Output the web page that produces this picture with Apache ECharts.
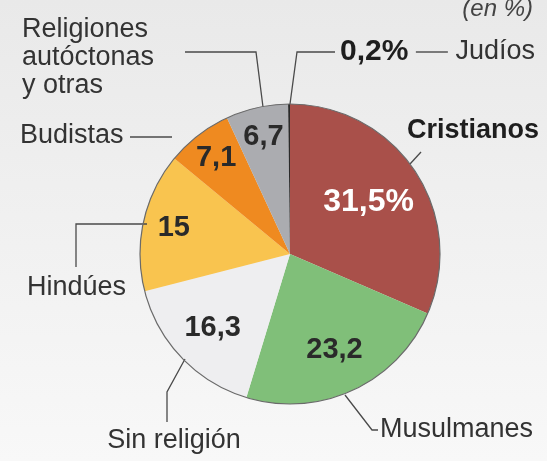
<!DOCTYPE html>
<html>
<head>
<meta charset="utf-8">
<script src="https://cdn.jsdelivr.net/npm/echarts@6/dist/echarts.min.js"></script>
<style>
html, body { margin: 0; padding: 0; }
#chart { width: 547px; height: 461px; background: linear-gradient(#e9e9e9, #f2f2f2 60%, #f8f8f8); }
</style>
</head>
<body>
<div id="chart"></div>
<script>
// religiones en el mundo (en %)
var religiones = ['Cristianos', 'Musulmanes', 'Sin religión', 'Hindúes', 'Budistas', 'Religiones autóctonas y otras', 'Judíos'];
var etiquetas = ['Cristianos', 'Musulmanes', 'Sin religión', 'Hindúes', 'Budistas', 'Religiones\nautóctonas\ny otras', 'Judíos'];
var porcentajes = [31.5, 23.2, 16.3, 15, 7.1, 6.7, 0.2];

var colores = ['#a9504a', '#80bf79', '#eeeef0', '#f9c44f', '#ef8a20', '#abacb0', '#2a2a2a'];

// geometría del pastel
var centro = [290, 254];
var radio = 150;
// distancia al centro de cada número interior
var distNumero = [94, 106, 107, 119, 121, 120, 0];
// posición de cada nombre y su línea guía
var posNombre = [
    { x: 407, y: 131, align: 'left', linea: [[410, 164], [421, 152], [421, 152]] },
    { x: 380, y: 430, align: 'left', linea: [[345, 395], [372, 430], [378, 430]] },
    { x: 174, y: 441, align: 'center', linea: [[185, 359], [167, 392], [167, 422]] },
    { x: 27, y: 288, align: 'left', linea: [[147, 224], [76, 224], [76, 267]] },
    { x: 20, y: 136, align: 'left', linea: [[172, 137], [150, 137], [130, 137]] },
    { x: 22, y: 58, align: 'left', linea: [[263, 107], [256, 52], [185, 52]] },
    { x: 340, y: 52, align: 'left', linea: [[290, 104], [297, 52], [335, 52]] }
];

function fmt(v) {
    return String(v).replace('.', ',');
}

var datos = religiones.map(function (n, i) {
    return { name: n, value: porcentajes[i], itemStyle: { color: colores[i] } };
});

var chart = echarts.init(document.getElementById('chart'));

var option = {
    animation: false,
    backgroundColor: 'transparent',
    textStyle: { fontFamily: '"Liberation Sans", Arial, sans-serif' },
    title: {
        text: '(en %)',
        right: 14,
        top: -3,
        padding: 0,
        textStyle: { fontStyle: 'italic', fontWeight: 'normal', fontSize: 24, color: '#444', fontFamily: '"Liberation Sans", Arial, sans-serif' }
    },
    series: [
        {
            // porciones con los números dentro
            type: 'pie',
            center: centro,
            radius: radio,
            startAngle: 90,
            clockwise: true,
            avoidLabelOverlap: false,
            silent: true,
            itemStyle: { borderWidth: 0 },
            data: datos.map(function (d, i) {
                return Object.assign({}, d, { label: { show: porcentajes[i] >= 1 } });
            }),
            label: {
                position: 'inside',
                formatter: function (p) {
                    if (p.dataIndex === 0) return '{w|' + fmt(p.value) + '%}';
                    return '{d|' + fmt(p.value) + '}';
                },
                rich: {
                    w: { fontSize: 32, fontWeight: 'bold', color: '#fff', fontFamily: '"Liberation Sans", Arial, sans-serif' },
                    d: { fontSize: 29, fontWeight: 'bold', color: '#2a2a2a', fontFamily: '"Liberation Sans", Arial, sans-serif' }
                }
            },
            labelLine: { show: false },
            labelLayout: function (p) {
                var r = p.labelRect;
                var lx = r.x + r.width / 2, ly = r.y + r.height / 2;
                var a = Math.atan2(ly - centro[1], lx - centro[0]);
                var d = distNumero[p.dataIndex];
                return {
                    x: centro[0] + d * Math.cos(a),
                    y: centro[1] + d * Math.sin(a),
                    align: 'center',
                    verticalAlign: 'middle'
                };
            }
        },
        {
            // nombres fuera con líneas guía
            type: 'pie',
            center: centro,
            radius: radio,
            startAngle: 90,
            clockwise: true,
            avoidLabelOverlap: false,
            silent: true,
            z: 3,
            itemStyle: { color: 'rgba(0,0,0,0)', borderWidth: 0 },
            data: datos.map(function (d, i) {
                return { name: d.name, value: d.value };
            }),
            label: {
                position: 'outside',
                fontSize: 27,
                lineHeight: 28,
                color: '#333',
                formatter: function (p) {
                    if (p.dataIndex === 0) return '{c|' + etiquetas[0] + '}';
                    if (p.dataIndex === 6) return '{b|' + fmt(p.value) + '%} {l|} ' + etiquetas[6];
                    return etiquetas[p.dataIndex];
                },
                rich: {
                    c: { fontSize: 27, fontWeight: 'bold', color: '#1e1e1e', fontFamily: '"Liberation Sans", Arial, sans-serif' },
                    b: { fontSize: 30, fontWeight: 'bold', color: '#1e1e1e', fontFamily: '"Liberation Sans", Arial, sans-serif' },
                    l: { width: 32, height: 1.4, backgroundColor: '#555', verticalAlign: 'middle' }
                }
            },
            labelLine: {
                show: true,
                smooth: false,
                lineStyle: { color: '#4a4a4a', width: 1.3 }
            },
            labelLayout: function (p) {
                var pos = posNombre[p.dataIndex];
                return {
                    x: pos.x,
                    y: pos.y,
                    align: pos.align,
                    verticalAlign: 'middle',
                    labelLinePoints: pos.linea
                };
            }
        },
        {
            // contorno del círculo
            type: 'pie',
            center: centro,
            radius: radio,
            silent: true,
            z: 4,
            label: { show: false },
            labelLine: { show: false },
            itemStyle: { color: 'rgba(0,0,0,0)', borderColor: '#6a6a6a', borderWidth: 1.2 },
            data: [{ name: 'total', value: 100 }]
        }
    ]
};

chart.setOption(option);
</script>
</body>
</html>
